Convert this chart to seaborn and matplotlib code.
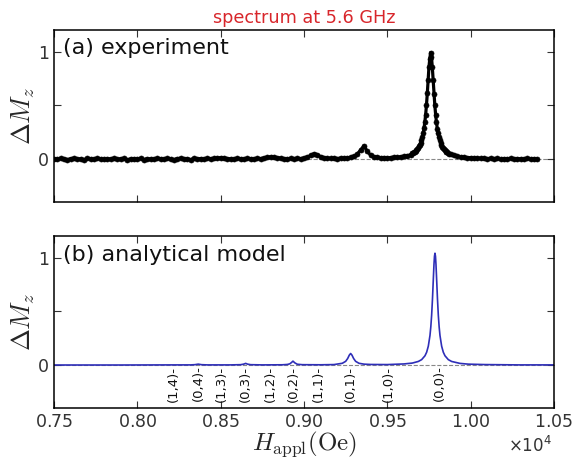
import numpy as np
import pandas as pd
import matplotlib
matplotlib.use("Agg")
import matplotlib.pyplot as plt
from matplotlib.ticker import ScalarFormatter, FixedLocator
import seaborn as sns

# ---------------------------------------------------------------- data
# measured spectrum: coarse grid on the baseline, fine grid across the main line
field_exp_low = np.arange(7500, 9641, 20)
dMz_exp_low = [
    0.004, -0.003, 0.006, 0.001, -0.005, 0.003, 0.007, -0.002, 0.002, -0.006,
    0.005, 0.000, -0.004, 0.006, 0.002, -0.003, 0.004, -0.001, 0.007, -0.004,
    0.002, 0.005, -0.006, 0.001, 0.004, -0.002, 0.006, -0.005, 0.003, 0.000,
    -0.003, 0.006, 0.002, -0.004, 0.005, 0.001, -0.006, 0.004, 0.007, -0.002,
    0.003, -0.005, 0.006, 0.000, 0.004, -0.003, 0.007, 0.002, 0.006, 0.009,
    0.012, 0.008, 0.004, 0.001, -0.003, 0.006, 0.002, -0.004, 0.005, 0.003,
    -0.002, 0.006, 0.004, 0.010, 0.016, 0.020, 0.017, 0.012, 0.006, 0.003,
    -0.001, 0.005, 0.002, 0.006, 0.004, 0.009, 0.018, 0.034, 0.048, 0.041,
    0.022, 0.012, 0.007, 0.005, 0.008, 0.004, 0.009, 0.006, 0.011, 0.015,
    0.024, 0.045, 0.085, 0.122, 0.070, 0.036, 0.022, 0.016, 0.012, 0.014,
    0.010, 0.013, 0.017, 0.016, 0.021, 0.024, 0.031, 0.040,
]
field_exp_peak = np.arange(9650, 9871, 5)
dMz_exp_peak = [
    0.052, 0.058, 0.062, 0.069, 0.076, 0.083, 0.094, 0.104, 0.118, 0.133,
    0.152, 0.176, 0.204, 0.241, 0.285, 0.342, 0.413, 0.503, 0.612, 0.737,
    0.858, 0.935, 0.990, 0.948, 0.855, 0.735, 0.608, 0.501, 0.412, 0.340,
    0.283, 0.239, 0.202, 0.175, 0.150, 0.131, 0.115, 0.102, 0.092, 0.082,
    0.075, 0.068, 0.061, 0.056, 0.051,
]
field_exp_high = np.arange(9880, 10401, 20)
dMz_exp_high = [
    0.044, 0.033, 0.026, 0.019, 0.017, 0.012, 0.013, 0.008, 0.010, 0.005,
    0.008, 0.003, 0.007, 0.001, 0.005, -0.002, 0.004, 0.000, 0.005, -0.003,
    0.004, 0.001, -0.002, 0.005, 0.000, 0.003, -0.001,
]

# analytical model curve
field_model = [
    7500, 7900, 8200, 8320, 8345, 8366, 8385, 8420, 8560, 8620,
    8638, 8650, 8662, 8680, 8750, 8870, 8900, 8915, 8925, 8934,
    8945, 8960, 8990, 9100, 9180, 9230, 9250, 9262, 9272, 9280,
    9288, 9298, 9310, 9330, 9360, 9400, 9500, 9600, 9650, 9686,
    9706, 9726, 9736, 9746, 9756, 9761, 9766, 9771, 9776, 9780,
    9783, 9786, 9789, 9792, 9796, 9801, 9806, 9811, 9816, 9826,
    9836, 9846, 9866, 9886, 9936, 9986, 10086, 10286, 10500,
]
dMz_model = [
    0.000, 0.000, 0.001, 0.001, 0.003, 0.008, 0.003, 0.001, 0.001, 0.003,
    0.008, 0.015, 0.008, 0.003, 0.001, 0.002, 0.005, 0.011, 0.023, 0.036,
    0.020, 0.007, 0.003, 0.002, 0.004, 0.016, 0.034, 0.060, 0.092, 0.107,
    0.092, 0.060, 0.034, 0.016, 0.008, 0.005, 0.004, 0.010, 0.018, 0.033,
    0.050, 0.086, 0.119, 0.175, 0.275, 0.355, 0.465, 0.614, 0.795, 0.936,
    1.012, 1.040, 1.012, 0.936, 0.795, 0.614, 0.465, 0.355, 0.275, 0.175,
    0.119, 0.086, 0.050, 0.033, 0.015, 0.008, 0.004, 0.001, 0.001,
]

# (m,n) mode assignments
mode_labels = ["(1,4)", "(0,4)", "(1,3)", "(0,3)", "(1,2)",
               "(0,2)", "(1,1)", "(0,1)", "(1,0)", "(0,0)"]
mode_fields = [8216, 8366, 8506, 8646, 8796, 8936, 9086, 9280, 9506, 9810]

x_ticks = [7500, 8000, 8500, 9000, 9500, 10000, 10500]
y_ticks = [0, 0.5, 1]
y_ticklabels = ["0", "", "1"]

exp_df = pd.DataFrame({
    "H": np.concatenate([field_exp_low, field_exp_peak, field_exp_high]),
    "dMz": np.concatenate([dMz_exp_low, dMz_exp_peak, dMz_exp_high]),
})
model_df = pd.DataFrame({"H": field_model, "dMz": dMz_model})

# ---------------------------------------------------------------- style
sns.set_style("ticks")
plt.rcParams.update({
    "font.family": ["DejaVu Sans"],
    "mathtext.fontset": "dejavusans",
    "xtick.direction": "in",
    "ytick.direction": "in",
    "xtick.top": True,
    "ytick.right": True,
    "xtick.major.size": 5,
    "ytick.major.size": 5,
    "xtick.major.width": 0.8,
    "ytick.major.width": 0.8,
    "xtick.labelsize": 12.5,
    "ytick.labelsize": 12.5,
    "axes.edgecolor": "black",
    "axes.linewidth": 1.1,
    "xtick.color": "#333333",
    "ytick.color": "#333333",
})

fig = plt.figure(figsize=(5.73, 4.59), dpi=100)
ax_exp = fig.add_axes([0.0942, 0.5599, 0.8726, 0.3747])
ax_mod = fig.add_axes([0.0942, 0.1111, 0.8726, 0.3747], sharex=ax_exp)

for ax in (ax_exp, ax_mod):
    ax.axhline(0, color="#888888", ls="--", lw=0.8, zorder=0)

sns.lineplot(data=exp_df, x="H", y="dMz", ax=ax_exp, estimator=None, sort=False,
             color="black", lw=2.3, marker="o", markersize=3.6,
             markeredgecolor="black", markeredgewidth=0.5)
sns.lineplot(data=model_df, x="H", y="dMz", ax=ax_mod, estimator=None, sort=False,
             color="#2e2eb8", lw=1.2)

for ax in (ax_exp, ax_mod):
    ax.set_xlim(7500, 10500)
    ax.set_ylim(-0.4, 1.2)
    ax.xaxis.set_major_locator(FixedLocator(x_ticks))
    ax.set_yticks(y_ticks)
    ax.set_yticklabels(y_ticklabels)
    ax.set_ylabel(r"$\Delta M_z$", fontsize=19, math_fontfamily="cm", labelpad=1)
    ax.set_xlabel("")
    for side in ("top", "right", "left", "bottom"):
        ax.spines[side].set_visible(True)

fmt = ScalarFormatter(useMathText=True)
fmt.set_powerlimits((-3, 3))
ax_mod.xaxis.set_major_formatter(fmt)
ax_mod.xaxis.get_offset_text().set_visible(False)
plt.setp(ax_exp.get_xticklabels(), visible=False)
ax_exp.xaxis.get_offset_text().set_visible(False)
fig.text(0.925, 0.006, r"$\times10^{4}$", ha="center", va="bottom",
         fontsize=12, color="#333333")

ax_mod.set_xlabel(r"$H_\mathrm{appl}(\mathrm{Oe})$", fontsize=18,
                  math_fontfamily="cm", labelpad=-1)

ax_exp.set_title("spectrum at 5.6 GHz", color="#d8262b", fontsize=12.7, pad=5)
ax_exp.text(0.018, 0.955, "(a) experiment", transform=ax_exp.transAxes,
            ha="left", va="top", fontsize=16, color="#111111")
ax_mod.text(0.018, 0.945, "(b) analytical model", transform=ax_mod.transAxes,
            ha="left", va="top", fontsize=16, color="#111111")

for lab, h in zip(mode_labels, mode_fields):
    ax_mod.text(h, -0.005, lab + "-", rotation=90, ha="center", va="top",
                fontsize=9.5, color="#111111")

fig.savefig("out.png", dpi=100)
